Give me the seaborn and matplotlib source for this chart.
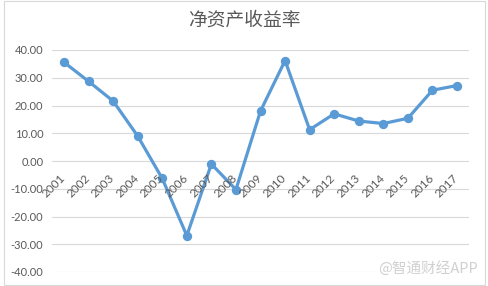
import matplotlib
matplotlib.use("Agg")
import matplotlib.pyplot as plt
import seaborn as sns
import pandas as pd
from matplotlib.patches import Rectangle

years = ["2001", "2002", "2003", "2004", "2005", "2006", "2007", "2008", "2009",
         "2010", "2011", "2012", "2013", "2014", "2015", "2016", "2017"]
roe = [35.6, 28.7, 21.6, 9.0, -6.3, -26.9, -1.1, -10.3, 18.0,
       36.2, 11.3, 17.0, 14.4, 13.5, 15.4, 25.5, 27.2]
y_ticks = [40, 30, 20, 10, 0, -10, -20, -30, -40]
title = "净资产收益率"
watermark = "@智通财经APP"

sns.set_theme(style="white")
plt.rcParams['font.family'] = ['Lato', 'Noto Sans CJK SC', 'DejaVu Sans']

df = pd.DataFrame({"year": years, "roe": roe})

fig = plt.figure(figsize=(4.88, 2.86), dpi=100)
ax = fig.add_axes([51.7 / 488, 1 - 272 / 286, (469.3 - 51.7) / 488, (272 - 50) / 286])

line_color = "#5B9BD5"
sns.pointplot(data=df, x="year", y="roe", color=line_color, ax=ax,
              markers="o", linestyles="-", markersize=5, linewidth=2.3,
              errorbar=None)

ax.set_xlim(-0.5, len(years) - 0.5)
ax.set_ylim(-40, 40)
ax.set_yticks(y_ticks)
ax.set_yticklabels([f"{v:.2f}" for v in y_ticks], fontsize=8, color="#595959")
ax.tick_params(axis="y", length=0, pad=6)
ax.set_xticks([])
ax.set_xlabel("")
ax.set_ylabel("")
for s in ax.spines.values():
    s.set_visible(False)
ax.grid(axis="y", color="#d9d9d9", linewidth=0.8)
ax.set_axisbelow(True)

for i, yr in enumerate(years):
    ax.annotate(yr, xy=(i, 0), xytext=(2.5, -8), textcoords="offset points",
                ha="right", va="top", rotation=45, fontsize=8.5, color="#595959")

fig.text(0.5, 1 - 20 / 286, title, ha="center", va="center", fontsize=13.5,
         color="#595959", family=['Noto Sans CJK SC', 'DejaVu Sans'])
fig.text(478 / 488, 1 - 268 / 286, watermark, ha="right", va="center", fontsize=10.5,
         color="#d0d0d0", family=['Noto Sans CJK SC', 'DejaVu Sans'])

fig.patches.append(Rectangle((4 / 488, 0.003), (485 - 4) / 488, 0.994,
                             transform=fig.transFigure, fill=False,
                             edgecolor="#d9d9d9", linewidth=0.8))

fig.savefig("out.png", dpi=100)
